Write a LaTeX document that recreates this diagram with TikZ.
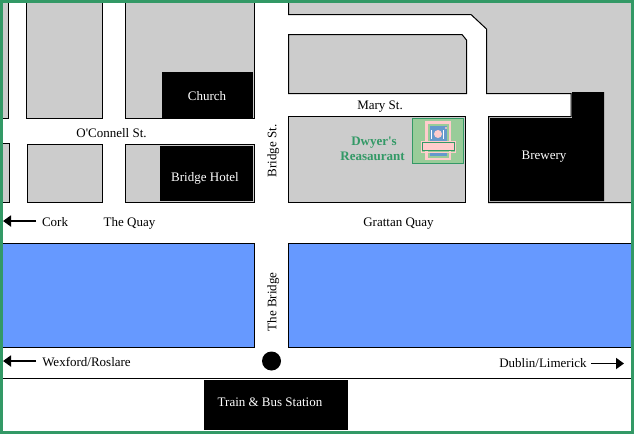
\documentclass[tikz,border=0pt]{standalone}
\usepackage{fontspec}
\setmainfont[Ligatures=TeXOff]{Liberation Serif}
\definecolor{framegreen}{HTML}{339966}
\definecolor{signgreen}{HTML}{99CC99}
\definecolor{blockgrey}{HTML}{CCCCCC}
\definecolor{waterblue}{HTML}{6699FF}
\definecolor{platepink}{HTML}{FFCCCC}
\definecolor{plateblue}{HTML}{6699CC}
\usetikzlibrary{arrows.meta}
\tikzset{
  block/.style = {draw=black, line width=1pt, fill=blockgrey},
  water/.style = {draw=black, line width=1pt, fill=waterblue},
  label/.style = {font=\fontsize{13}{15}\selectfont, inner sep=0pt, text height=8.5pt, text depth=0pt},
  wlabel/.style = {label, text=white},
  glabel/.style = {label, text=framegreen, font=\fontsize{13}{15}\selectfont\bfseries},
  road/.style = {-{Triangle[length=8pt,width=11pt]}, line width=1.8pt},
}
\begin{document}
\begin{tikzpicture}[x=1pt,y=-1pt]
  \useasboundingbox (0,0) rectangle (634,434);
  \fill[white] (0,0) rectangle (634,434);
%Blocks left of Bridge St.
  \draw[block] (0,0) rectangle (8.5,118.5);
  \draw[block] (26.5,0) rectangle (102.5,118.5);
  \draw[block] (125.5,0) rectangle (254.5,118.5);
  \draw[block] (0,143.5) rectangle (9.5,202.5);
  \draw[block] (27.5,144.5) rectangle (102.5,202.5);
  \draw[block] (125.5,144.5) rectangle (254.5,202.5);
  \fill[black] (162,72) rectangle (253,118);
  \fill[black] (160,146) rectangle (253,201);
%Blocks right of Bridge St.
  \draw[block] (288.5,0) -- (288.5,14.5) -- (471,14.5) -- (486.5,29) -- (486.5,93.5)
    -- (571,93.5) -- (571,116.5) -- (488.5,116.5) -- (488.5,202.5) -- (634,202.5)
    -- (634,0) -- cycle;
  \draw[block] (288.5,34.5) -- (462,34.5) -- (466.5,40) -- (466.5,93.5) -- (288.5,93.5) -- cycle;
  \draw[block] (288.5,116.5) rectangle (465.5,202.5);
  \fill[black] (572,92) -- (604,92) -- (604,201) -- (490,201) -- (490,118) -- (572,118) -- cycle;
%Restaurant sign
  \draw[draw=framegreen, fill=signgreen] (412.5,118.5) rectangle (463.5,163.5);
  \fill[platepink] (425,121) rectangle (451,160);
  \fill[signgreen] (428,124) rectangle (449,158);
  \fill[plateblue] (430,126) rectangle (447,142);
  \fill[plateblue] (430,152) rectangle (447,156);
  \fill[platepink] (438,134) circle (4);
  \fill[platepink] (446,128) circle (1.2);
  \draw[white] (431.5,130) -- (431.5,139);
  \draw[white] (443.5,130) -- (443.5,139);
  \draw[draw=platepink, line width=1pt] (421.5,141) rectangle (455.5,152);
  \draw[draw=framegreen, fill=platepink] (422.5,142.5) rectangle (454.5,150.5);
%River
  \draw[water] (0,243.5) rectangle (254.5,347.5);
  \draw[water] (288.5,243.5) rectangle (634,347.5);
%Railway and station
  \draw[line width=1pt] (0,378.5) -- (634,378.5);
  \fill[black] (204,380) rectangle (348,430);
  \fill[black] (271.5,361) circle (9.5);
%Road arrows
  \coordinate (corkfrom) at (36,221);
  \coordinate (corkto) at (3,221);
  \coordinate (wexfordfrom) at (36,361);
  \coordinate (wexfordto) at (3,361);
  \coordinate (dublinfrom) at (591,363.5);
  \coordinate (dublinto) at (624,363.5);
  \draw[road] (corkfrom) -- (corkto);
  \draw[road] (wexfordfrom) -- (wexfordto);
  \draw[road] (dublinfrom) -- (dublinto);
%Labels
  \node[label] (oconnell) at (111.5,133) {O'Connell St.};
  \node[label] (mary) at (380,105) {Mary St.};
  \node[label, rotate=90] (bridgest) at (272,151) {Bridge St.};
  \node[label, rotate=90] (thebridge) at (272,302) {The Bridge};
  \node[label] (cork) at (55,222) {Cork};
  \node[label] (quay) at (129.5,222) {The Quay};
  \node[label] (grattan) at (398.5,222) {Grattan Quay};
  \node[label] (wexford) at (86.5,362) {Wexford/Roslare};
  \node[label] (dublin) at (543,363) {Dublin/Limerick};
  \node[wlabel] (church) at (207,96) {Church};
  \node[wlabel] (hotel) at (205,177) {Bridge Hotel};
  \node[wlabel] (brewery) at (544,155) {Brewery};
  \node[wlabel] (station) at (270,402) {Train \& Bus Station};
  \node[glabel] (dwyer) at (374,141) {Dwyer's};
  \node[glabel] (reas) at (372.5,156) {Reasaurant};
%Frame
  \draw[framegreen, line width=3pt] (1.5,1.5) rectangle (632.5,432.5);
\end{tikzpicture}
\end{document}
